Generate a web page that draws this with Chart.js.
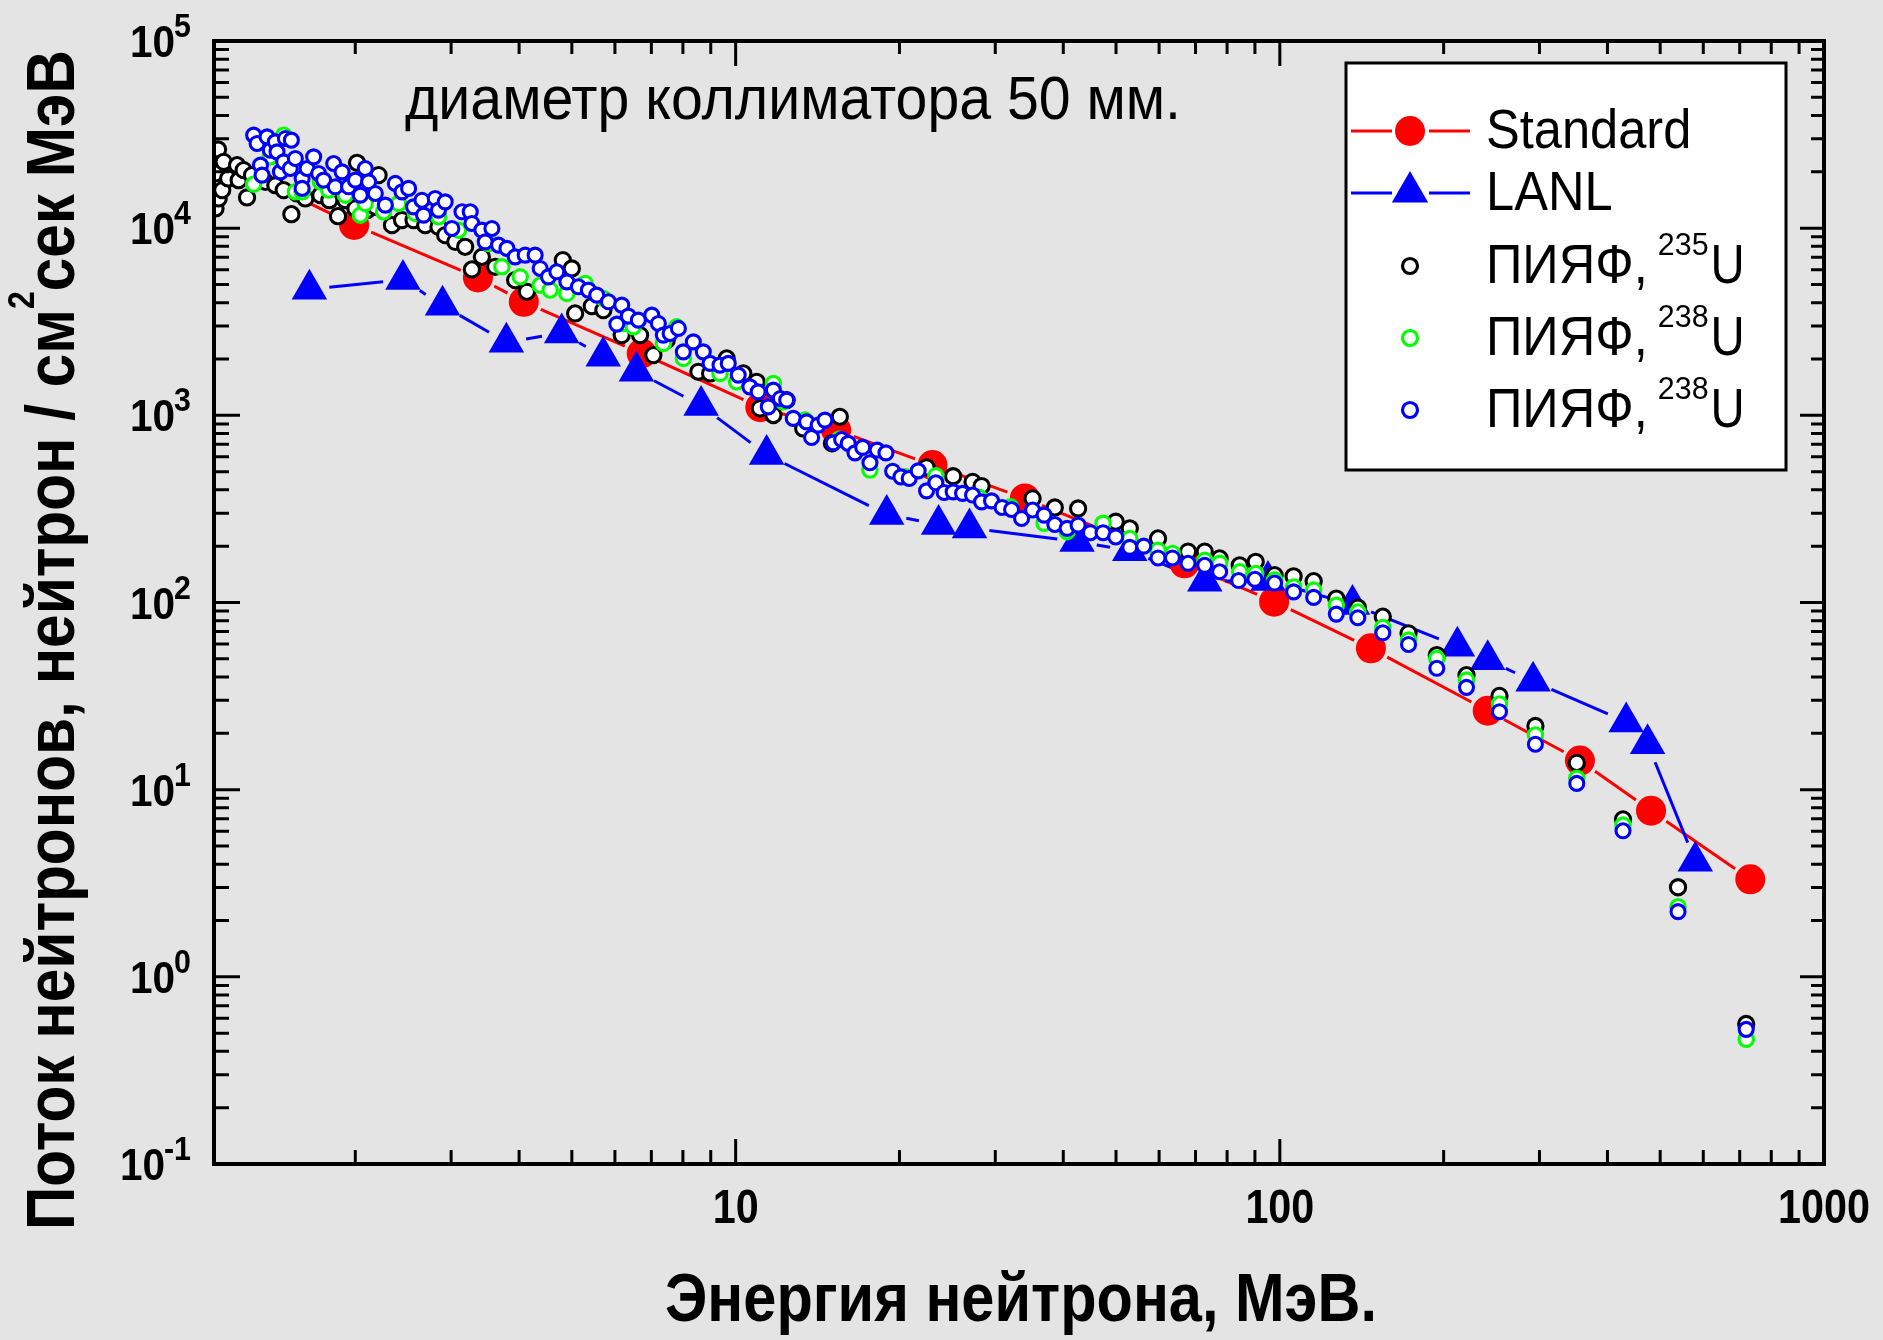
<!DOCTYPE html>
<html lang="ru">
<head>
<meta charset="utf-8">
<style>
  html, body { margin: 0; padding: 0; background: #e4e4e4; }
  #wrap { width: 1883px; height: 1340px; }
</style>
</head>
<body>
<div id="wrap"><canvas id="fluxChart"></canvas></div>
<script src="https://cdn.jsdelivr.net/npm/chart.js"></script>
<script>
// ---- data (energy in MeV, flux in n / cm^2 s MeV) ----
const standardE = [1.53, 1.99, 3.36, 4.08, 6.72, 11.1, 15.3, 23.0, 34.0, 66.8, 97.6, 147, 241, 356, 481, 732];
const standardF = [15100, 10400, 5450, 4040, 2140, 1106, 834, 542, 360, 162, 101, 56.9, 26.4, 14.3, 7.72, 3.32];

const lanlE = [1.647, 2.447, 2.893, 3.79, 4.79, 5.71, 6.57, 8.64, 11.4, 18.95, 23.6, 26.9, 42.4, 53.0, 72.8, 95.1, 136, 212, 241, 292, 433, 474, 580];
const lanlF = [4720, 5310, 3870, 2455, 2755, 2066, 1718, 1127, 617, 295, 261, 250, 212, 189, 130, 131, 97.5, 58.4, 49.5, 37.9, 23.0, 17.6, 4.15];

const u235E = [1.107, 1.107, 1.119, 1.122, 1.139, 1.146, 1.168, 1.213, 1.221, 1.247, 1.265, 1.292, 1.367, 1.426, 1.477, 1.526, 1.563, 1.619, 1.725, 1.792,
  1.859, 1.918, 2.001, 2.015, 2.102, 2.177, 2.207, 2.336, 2.437, 2.559, 2.689, 2.844, 2.926, 3.053, 3.184, 3.276, 3.417, 3.615, 3.934, 4.134,
  4.813, 5.000, 5.070, 5.440, 5.714, 6.175, 6.673, 7.060, 7.470, 8.541, 8.975, 9.628, 10.33, 10.93, 11.08, 11.73, 12.41, 13.31, 15.03, 15.54,
  22.43, 25.10, 27.25, 28.31, 35.13, 38.59, 42.59, 49.94, 53.0, 59.73, 67.82, 72.78, 77.51, 84.4, 90.3, 97.8, 106, 115.4, 127, 139.1,
  154.6, 172.4, 194.3, 220.3, 253.3, 294.9, 351.3, 427.2, 539.2, 719.5];
const u235F = [19600, 12750, 26330, 14410, 15970, 22610, 18430, 21710, 18050, 20420, 14590, 19200, 17680, 16970, 15970, 11880, 15330, 14410, 15010, 14110,
  11590, 14110, 12750, 22340, 12480, 13000, 19200, 10380, 11040, 11040, 10380, 10160, 9177, 8450, 7948, 6020, 7027, 6216, 5277, 4569,
  6748, 6093, 3504, 3832, 3649, 2683, 2683, 2098, 2522, 1708, 1675, 2014, 1675, 1511, 1089, 1003, 1206, 851, 708, 982,
  527, 473, 441, 419, 360, 322, 318, 270, 249, 220, 187, 187, 172, 158, 165, 140, 138, 130, 105, 94,
  84, 68.4, 52.4, 40.9, 31.7, 21.9, 13.9, 6.94, 3.01, 0.56];

const u238aE = [1.301, 1.367, 1.396, 1.477, 1.552, 1.597, 1.725, 1.787, 1.918, 2.043, 2.086, 2.254, 2.402, 2.578, 2.844, 3.095, 3.514, 3.719, 4.018, 4.373,
  4.562, 4.896, 5.289, 5.714, 6.218, 6.486, 7.364, 7.794, 8.014, 9.359, 10.04, 11.73, 12.23, 13.41, 15.5, 17.65, 20.5, 23.33, 28.0, 32.0,
  36.88, 40.66, 47.33, 53.0, 59.73, 63.48, 72.78, 77.51, 84.4, 90.3, 97.8, 106, 115.4, 127, 139.1, 154.6, 172.4, 194.3, 220.3, 253.3,
  294.9, 351.3, 427.2, 539.2, 719.5];
const u238aF = [17190, 30160, 24040, 31400, 15630, 15630, 17680, 15970, 15010, 11740, 13560, 12230, 13560, 11990, 11500, 9759, 8286, 6216, 5495, 4961,
  4667, 4481, 5066, 4213, 3097, 2971, 2423, 2971, 2014, 1675, 1511, 1481, 1181, 943, 745, 510, 470, 475, 365, 325,
  265, 239, 265, 220, 190, 183, 168, 162, 146, 143, 132, 121, 116.5, 96.8, 89, 73.6, 63, 50.3, 38.5, 28.7,
  19.6, 11.5, 6.47, 2.37, 0.464];

const u238bE = [1.301, 1.320, 1.339, 1.348, 1.377, 1.396, 1.426, 1.436, 1.457, 1.477, 1.488, 1.519, 1.526, 1.552, 1.597, 1.597, 1.631, 1.677, 1.713, 1.749,
  1.825, 1.838, 1.891, 1.944, 2.001, 2.043, 2.086, 2.116, 2.177, 2.271, 2.369, 2.437, 2.506, 2.559, 2.652, 2.670, 2.805, 2.844, 2.926, 3.010,
  3.141, 3.253, 3.276, 3.417, 3.466, 3.565, 3.667, 3.799, 3.934, 4.104, 4.281, 4.373, 4.529, 4.692, 4.896, 5.141, 5.362, 5.556, 5.837, 6.048,
  6.175, 6.350, 6.625, 7.013, 7.211, 7.364, 7.578, 7.848, 8.014, 8.361, 8.721, 8.975, 9.359, 9.692, 10.11, 10.62, 11.00, 11.48, 11.73, 12.08,
  12.41, 12.76, 13.50, 13.79, 14.18, 14.59, 15.11, 15.66, 16.10, 16.57, 17.12, 17.65, 18.20, 18.89, 19.43, 20.13, 20.84, 21.65, 22.43, 23.33,
  24.16, 25.10, 26.12, 27.25, 28.31, 29.53, 30.88, 32.14, 33.53, 35.13, 36.88, 38.59, 40.66, 42.59, 44.87, 47.33, 49.94, 53.0, 56.23, 59.73,
  63.48, 67.82, 72.78, 77.51, 84, 90, 97.8, 106, 115.4, 127, 139.1, 154.6, 172.4, 194.3, 220.3, 253.3, 294.9, 351.3, 427.2, 539.2,
  719.5];
const u238bF = [31400, 28360, 21710, 19200, 30740, 26110, 28920, 25570, 19990, 22610, 30160, 20840, 29530, 23580, 18430, 16310, 20840, 24040, 19600, 18050,
  22160, 16630, 19990, 16630, 18050, 15010, 20840, 17680, 15330, 13270, 17340, 15630, 16310, 13000, 14110, 11740, 14410, 12480, 13820, 9965,
  12230, 12230, 10600, 9759, 8450, 9965, 8118, 7795, 7027, 7176, 7176, 6093, 5495, 5845, 5167, 4860, 4667, 4387, 4041, 3072,
  3880, 3388, 3226, 3430, 3097, 2683, 2739, 2913, 2184, 2470, 2184, 1894, 1855, 1894, 1640, 1420, 1335, 1110, 1364, 1231,
  1206, 963, 923, 762, 887, 943, 713, 743, 708, 630, 674, 558, 652, 630, 503, 469, 460, 505, 395, 436,
  387, 390, 383, 375, 345, 349, 322, 314, 281, 312, 293, 261, 249, 259, 236, 236, 224, 197, 200, 173,
  173, 162, 158, 146, 131, 133, 127, 114, 106.5, 86.7, 82.9, 68.9, 59.7, 44.5, 35.2, 26.1, 17.5, 10.8, 6.03, 2.23,
  0.524];

const yTickValues = [0.1, 1, 10, 100, 1000, 10000, 100000];
const yTickExp = ['-1', '0', '1', '2', '3', '4', '5'];
const xTickValues = [10, 100, 1000];
const xTickLabels = ['10', '100', '1000'];

const legendNames = ['Standard', 'LANL', 'ПИЯФ, ', 'ПИЯФ, ', 'ПИЯФ, '];
const legendSup = ['', '', '235', '238', '238'];
const legendTail = ['', '', 'U', 'U', 'U'];

const titleText = 'диаметр коллиматора 50 мм.';
const xTitle = 'Энергия нейтрона, МэВ.';
const yTitleParts = ['Поток нейтронов, нейтрон / см', '2', 'сек МэВ'];

function toPoints(xs, ys) {
    return xs.map((x, i) => ({ x: x, y: ys[i] }));
}

function drawText(ctx, s, x, y, font, sx) {
    ctx.save();
    ctx.font = font;
    ctx.translate(x, y);
    ctx.scale(sx, 1);
    ctx.textAlign = 'left';
    ctx.textBaseline = 'alphabetic';
    ctx.fillStyle = '#000';
    ctx.fillText(s, 0, 0);
    const w = ctx.measureText(s).width * sx;
    ctx.restore();
    return w;
}

function textWidth(ctx, s, font, sx) {
    ctx.save();
    ctx.font = font;
    const w = ctx.measureText(s).width * sx;
    ctx.restore();
    return w;
}

// lines between markers, with a gap round each marker (as in the original)
const gapLines = {
    id: 'gapLines',
    beforeDatasetsDraw(chart) {
        const ctx = chart.ctx, a = chart.chartArea;
        ctx.save();
        ctx.beginPath();
        ctx.rect(a.left, a.top, a.right - a.left, a.bottom - a.top);
        ctx.clip();
        chart.data.datasets.forEach((ds, i) => {
            if (!ds.gap) return;
            const pts = chart.getDatasetMeta(i).data;
            ctx.strokeStyle = ds.lineColor;
            ctx.lineWidth = ds.lineW;
            for (let k = 0; k < pts.length - 1; k++) {
                const p = pts[k], q = pts[k + 1];
                const dx = q.x - p.x, dy = q.y - p.y, len = Math.hypot(dx, dy);
                if (len <= 2 * ds.gap) continue;
                const ux = dx / len, uy = dy / len;
                ctx.beginPath();
                ctx.moveTo(p.x + ux * ds.gap, p.y + uy * ds.gap);
                ctx.lineTo(q.x - ux * ds.gap, q.y - uy * ds.gap);
                ctx.stroke();
            }
        });
        ctx.restore();
    }
};

// frame, inward ticks, tick labels, titles, legend
const decorations = {
    id: 'decorations',
    afterDraw(chart) {
        const ctx = chart.ctx, a = chart.chartArea;
        const xs = chart.scales.x, ys = chart.scales.y;
        ctx.save();
        ctx.strokeStyle = '#000';
        ctx.lineWidth = 3;
        ctx.lineCap = 'butt';

        // y ticks (left and right)
        for (let e = -1; e <= 5; e++) {
            for (let m = 1; m <= 9; m++) {
                const v = m * Math.pow(10, e);
                if (v < 0.1 || v > 100000) continue;
                const py = ys.getPixelForValue(v);
                const major = m === 1;
                ctx.beginPath();
                ctx.moveTo(a.left, py); ctx.lineTo(a.left + (major ? 26 : 15), py);
                ctx.moveTo(a.right, py); ctx.lineTo(a.right - (major ? 24 : 13), py);
                ctx.stroke();
            }
        }
        // x ticks (bottom and top)
        for (let e = 0; e <= 3; e++) {
            for (let m = 1; m <= 9; m++) {
                const v = m * Math.pow(10, e);
                if (v < 1.1 || v > 1000) continue;
                const px = xs.getPixelForValue(v);
                const major = m === 1;
                ctx.beginPath();
                ctx.moveTo(px, a.bottom); ctx.lineTo(px, a.bottom - (major ? 25 : 14));
                ctx.moveTo(px, a.top); ctx.lineTo(px, a.top + (major ? 25 : 13));
                ctx.stroke();
            }
        }
        // frame
        ctx.lineWidth = 4;
        ctx.strokeRect(a.left, a.top, a.right - a.left, a.bottom - a.top);

        // y tick labels 10^n
        const fMain = 'bold 45px "Liberation Sans", Arial, sans-serif';
        const fSup = 'bold 33px "Liberation Sans", Arial, sans-serif';
        yTickValues.forEach((v, i) => {
            const py = ys.getPixelForValue(v);
            const supW = textWidth(ctx, yTickExp[i], fSup, 0.92);
            const right = a.left - 23;
            drawText(ctx, yTickExp[i], right - supW, py - 4, fSup, 0.92);
            const mainW = textWidth(ctx, '10', fMain, 0.9);
            drawText(ctx, '10', right - supW - mainW + 1, py + 16, fMain, 0.9);
        });

        // x tick labels
        const fX = 'bold 48px "Liberation Sans", Arial, sans-serif';
        xTickValues.forEach((v, i) => {
            const px = xs.getPixelForValue(v);
            const w = textWidth(ctx, xTickLabels[i], fX, 0.86);
            drawText(ctx, xTickLabels[i], px - w / 2, a.bottom + 59, fX, 0.86);
        });

        // x axis title
        const fTitle = 'bold 68px "Liberation Sans", Arial, sans-serif';
        const xw = textWidth(ctx, xTitle, fTitle, 1);
        const xsx = 712 / xw;
        drawText(ctx, xTitle, 1021 - 712 / 2, 1321, fTitle, xsx);

        // y axis title (rotated, with superscript 2)
        const fYSup = 'bold 36px "Liberation Sans", Arial, sans-serif';
        const w0 = textWidth(ctx, yTitleParts[0], fTitle, 1);
        const w1 = textWidth(ctx, yTitleParts[1], fYSup, 1);
        const w2 = textWidth(ctx, yTitleParts[2], fTitle, 1);
        const ysx = 1180 / (w0 + w1 + w2);
        ctx.save();
        ctx.translate(74, 640);
        ctx.rotate(-Math.PI / 2);
        let cx = -590;
        cx += drawText(ctx, yTitleParts[0], cx, 0, fTitle, ysx);
        cx += drawText(ctx, yTitleParts[1], cx, -40, fYSup, ysx);
        drawText(ctx, yTitleParts[2], cx, 0, fTitle, ysx);
        ctx.restore();

        // inner title
        const fIn = '62px "Liberation Sans", Arial, sans-serif';
        const tw = textWidth(ctx, titleText, fIn, 1);
        drawText(ctx, titleText, 405, 119, fIn, 776 / tw);

        // legend
        const lx = 1346, ly = 63, lw = 440, lh = 407;
        ctx.fillStyle = '#ffffff';
        ctx.fillRect(lx, ly, lw, lh);
        ctx.lineWidth = 3;
        ctx.strokeStyle = '#000';
        ctx.strokeRect(lx, ly, lw, lh);
        const rowsY = [131, 193, 266, 338, 410];
        const mx = 1410;
        const fLeg = '55px "Liberation Sans", Arial, sans-serif';
        const fLegSup = '32px "Liberation Sans", Arial, sans-serif';
        chart.data.datasets.forEach((ds, i) => {
            const y = rowsY[i];
            if (ds.gap) {
                ctx.strokeStyle = ds.lineColor;
                ctx.lineWidth = 3;
                ctx.beginPath();
                ctx.moveTo(1351, y); ctx.lineTo(1392, y);
                ctx.moveTo(1429, y); ctx.lineTo(1470, y);
                ctx.stroke();
            }
            ctx.fillStyle = ds.backgroundColor;
            if (ds.pointStyle === 'triangle') {
                const r = 21, yc = y - 1;
                ctx.beginPath();
                ctx.moveTo(mx, yc - r);
                ctx.lineTo(mx + r * Math.sin(2 * Math.PI / 3), yc - r * Math.cos(2 * Math.PI / 3));
                ctx.lineTo(mx - r * Math.sin(2 * Math.PI / 3), yc - r * Math.cos(2 * Math.PI / 3));
                ctx.closePath();
                ctx.fill();
            } else {
                const r = i === 0 ? 15 : 7.5;
                ctx.beginPath();
                ctx.arc(mx, y, r, 0, 2 * Math.PI);
                ctx.fill();
                if (ds.borderWidth > 0) {
                    ctx.strokeStyle = ds.borderColor;
                    ctx.lineWidth = 3.2;
                    ctx.stroke();
                }
            }
            const base = y + 17;
            let tx = 1486;
            tx += drawText(ctx, legendNames[i], tx, base, fLeg, 0.92);
            if (legendSup[i]) {
                tx += drawText(ctx, legendSup[i], tx - 4, base - 28, fLegSup, 0.95) - 2;
                drawText(ctx, legendTail[i], tx, base, fLeg, 0.86);
            }
        });
        ctx.restore();
    }
};

const standardRadius = standardE.map((e, i) => (i === 0 ? 0 : 15));

new Chart(document.getElementById('fluxChart'), {
    type: 'scatter',
    data: {
        datasets: [
            {
                label: 'Standard', data: toPoints(standardE, standardF),
                pointStyle: 'circle', pointRadius: standardRadius, backgroundColor: '#ff0000',
                borderWidth: 0, gap: 18.5, lineColor: '#ff0000', lineW: 3, order: 5
            },
            {
                label: 'LANL', data: toPoints(lanlE, lanlF),
                pointStyle: 'triangle', pointRadius: 20.5, backgroundColor: '#0000ff',
                borderWidth: 0, gap: 20, lineColor: '#0000ff', lineW: 3, order: 4
            },
            {
                label: 'ПИЯФ, 235U', data: toPoints(u235E, u235F),
                pointStyle: 'circle', pointRadius: 7.6, backgroundColor: '#ffffff',
                borderColor: '#000000', borderWidth: 3.1, order: 3
            },
            {
                label: 'ПИЯФ, 238U', data: toPoints(u238aE, u238aF),
                pointStyle: 'circle', pointRadius: 7.2, backgroundColor: '#ffffff',
                borderColor: '#00ff00', borderWidth: 3.1, order: 2
            },
            {
                label: 'ПИЯФ, 238U', data: toPoints(u238bE, u238bF),
                pointStyle: 'circle', pointRadius: 7, backgroundColor: '#ffffff',
                borderColor: '#0000ff', borderWidth: 3.1, order: 1
            }
        ]
    },
    options: {
        responsive: true,
        maintainAspectRatio: false,
        devicePixelRatio: 1,
        animation: false,
        events: [],
        layout: { padding: { left: 214, right: 59, top: 41, bottom: 176 } },
        plugins: { legend: { display: false }, tooltip: { enabled: false } },
        scales: {
            x: { type: 'logarithmic', min: 1.1, max: 1000, display: false },
            y: { type: 'logarithmic', min: 0.1, max: 100000, display: false }
        }
    },
    plugins: [gapLines, decorations]
});
</script>
</body>
</html>
